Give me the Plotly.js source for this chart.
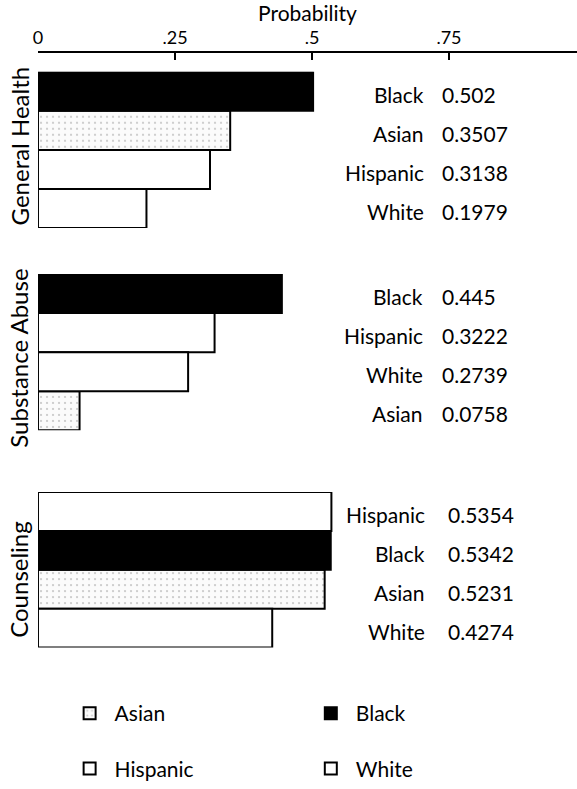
<!DOCTYPE html>
<html><head><meta charset="utf-8">
<script src="https://cdn.plot.ly/plotly-3.0.1.min.js"></script>
<style>html,body{margin:0;padding:0;background:#fff}#chart{width:577px;height:789px}</style>
</head><body><div id="chart"></div>
<script>
// ---- data ----
const races = ['Asian', 'Black', 'Hispanic', 'White'];
const panels = ['General Health', 'Substance Abuse', 'Counseling'];
const generalHealth = [0.3507, 0.502, 0.3138, 0.1979];
const substanceAbuse = [0.0758, 0.445, 0.3222, 0.2739];
const counseling = [0.5231, 0.5342, 0.5354, 0.4274];
const xTickVals = [0, 0.25, 0.5, 0.75];
const xTickText = ['0', '.25', '.5', '.75'];

// ---- styling ----
const FONT = 'Lato, "Open Sans", sans-serif';
const panelValues = [generalHealth, substanceAbuse, counseling];
const yDomains = [[0.7098, 0.9087], [0.4525, 0.6515], [0.1762, 0.3739]];
const panelTitleY = [0.8137, 0.5437, 0.2624];
const labelPos = [[0.708, 0.734], [0.706, 0.734], [0.71, 0.744]];
const raceStyle = {
  Asian: {color: '#ffffff', pattern: {shape: '.', fgcolor: '#c4c4c4', bgcolor: '#fbfbfb', size: 6, solidity: 0.1}, legend: 'legend'},
  Black: {color: '#000000', legend: 'legend2'},
  Hispanic: {color: '#ffffff', legend: 'legend'},
  White: {color: '#ffffff', legend: 'legend2'}
};

const traces = [];
const annotations = [];
const layout = {
  width: 577, height: 789,
  margin: {l: 0, r: 0, t: 0, b: 0},
  paper_bgcolor: '#fff', plot_bgcolor: 'rgba(0,0,0,0)',
  font: {family: FONT, size: 21, color: '#000'},
  barmode: 'overlay', bargap: 0,
  showlegend: true,
  xaxis: {
    domain: [0.0659, 1], range: [0, 0.9836], anchor: 'free', position: 0.934, side: 'top',
    showline: true, linewidth: 2, linecolor: '#000', ticks: 'inside', ticklen: 7, tickwidth: 2, tickcolor: '#000',
    tickvals: xTickVals, ticktext: xTickText, showgrid: false, zeroline: false, automargin: false,
    tickfont: {size: 18}, title: {text: 'Probability', font: {size: 21}, standoff: 0}
  },
  legend: {x: 0.112, y: 0.118, xanchor: 'left', yanchor: 'top', orientation: 'v', tracegroupgap: 25,
           font: {size: 21}, itemwidth: 40, traceorder: 'grouped'},
  legend2: {x: 0.53, y: 0.118, xanchor: 'left', yanchor: 'top', orientation: 'v', tracegroupgap: 25,
            font: {size: 21}, itemwidth: 40, traceorder: 'grouped'},
  annotations: annotations
};

panels.forEach((panel, p) => {
  const vals = panelValues[p];
  const order = races.map((r, i) => i).sort((a, b) => vals[b] - vals[a]);
  const yName = p === 0 ? 'y' : 'y' + (p + 1);
  const axKey = p === 0 ? 'yaxis' : 'yaxis' + (p + 1);
  layout[axKey] = {
    domain: yDomains[p], anchor: 'x', type: 'category',
    categoryorder: 'array', categoryarray: order.map(i => races[i]), autorange: 'reversed',
    showticklabels: false, ticks: '', showline: false, showgrid: false, zeroline: false
  };
  // panel title (rotated, left of the bars)
  annotations.push({xref: 'paper', yref: 'paper', x: 0.033, y: panelTitleY[p], text: panel,
    textangle: -90, xanchor: 'center', yanchor: 'middle', showarrow: false, font: {size: 24}});
  races.forEach((race, i) => {
    const st = raceStyle[race];
    const marker = {color: st.color, line: {color: '#000', width: 2}};
    if (st.pattern) marker.pattern = st.pattern;
    traces.push({
      type: 'bar', orientation: 'h', name: race,
      x: [vals[i]], y: [race], xaxis: 'x', yaxis: yName,
      marker: marker, width: 1,
      legendgroup: race, showlegend: p === 0, legend: st.legend,
      hoverinfo: 'skip'
    });
    annotations.push({xref: 'x', yref: yName, x: labelPos[p][0], y: race, text: race,
      xanchor: 'right', yanchor: 'middle', yshift: -3, showarrow: false, font: {size: 21}});
    annotations.push({xref: 'x', yref: yName, x: labelPos[p][1], y: race, text: String(vals[i]),
      xanchor: 'left', yanchor: 'middle', yshift: -3, showarrow: false, font: {size: 21}});
  });
});

// legend order: Asian, Hispanic in first column; Black, White in second
const legendRank = {Asian: 1, Hispanic: 2, Black: 3, White: 4};
traces.forEach(t => { t.legendrank = legendRank[t.name]; });

Plotly.newPlot('chart', traces, layout, {staticPlot: true, displayModeBar: false});
</script>
</body></html>
